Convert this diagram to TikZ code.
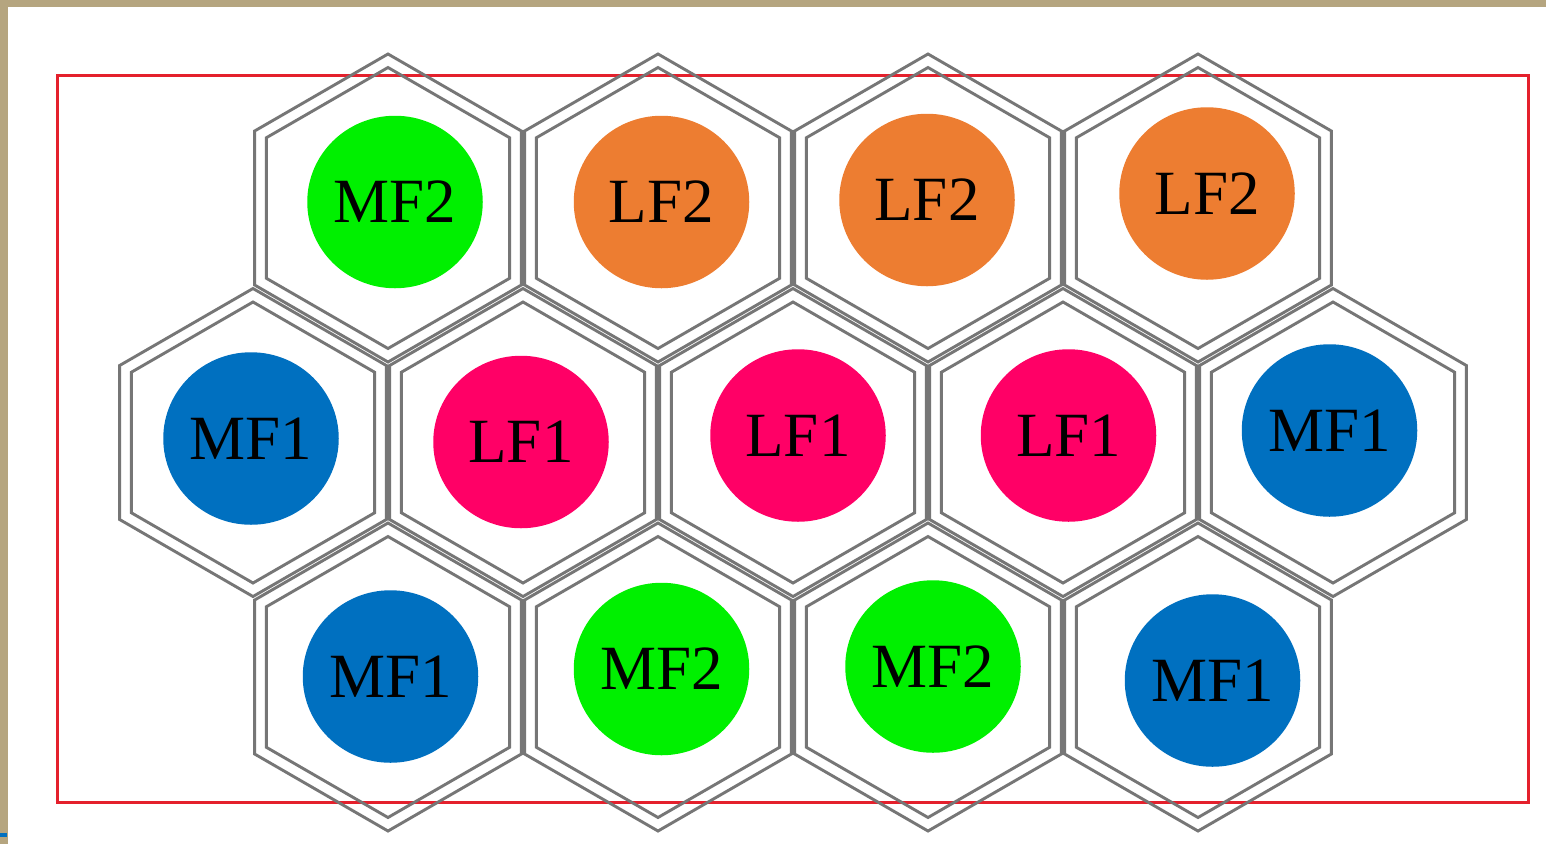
\documentclass[tikz,border=0pt]{standalone}
\usepackage{fontspec}
\setmainfont{Liberation Serif}
\usetikzlibrary{shapes.geometric}

\definecolor{frame}{RGB}{181,165,127}
\definecolor{boxred}{RGB}{228,32,44}
\definecolor{hexgray}{RGB}{118,118,118}
\definecolor{mfgreen}{RGB}{0,240,0}
\definecolor{lforange}{RGB}{237,125,49}
\definecolor{lfpink}{RGB}{255,0,102}
\definecolor{mfblue}{RGB}{0,112,192}

\tikzset{
  hexline/.style={draw=hexgray, line width=2.9pt, line join=miter},
  cell/.pic={
    \draw[hexline] (90:154) \foreach \a in {150,210,270,330,30} {-- (\a:154)} -- cycle;
    \draw[hexline] (90:140.5) \foreach \a in {150,210,270,330,30} {-- (\a:140.5)} -- cycle;
  },
  disc/.style={ellipse, minimum width=175.5pt, minimum height=172.5pt,
    inner sep=0pt, draw=none, text=black,
    font=\fontsize{63}{70}\selectfont},
  mf1/.style={disc, fill=mfblue},
  mf2/.style={disc, fill=mfgreen},
  lf1/.style={disc, fill=lfpink},
  lf2/.style={disc, fill=lforange},
}

\begin{document}
\begin{tikzpicture}[x=1pt, y=-1pt]
  % canvas and frame edges
  \path[use as bounding box, fill=white] (0,0) rectangle (1546,844);
  \fill[frame] (0,0) rectangle (1546,7);
  \fill[frame] (0,0) rectangle (8,844);
  \fill[mfblue] (0,833) rectangle (7,837);

  % outline of the region
  \draw[boxred, line width=3pt] (57.5,75) rectangle (1528,802);

  % hexagonal cells: three rows
  \foreach \x in {388,658,928,1198} {
    \pic at (\x,208) {cell};
    \pic at (\x,677) {cell};
  }
  \foreach \x in {253,523,793,1063,1333} {
    \pic at (\x,442.5) {cell};
  }

  % top row
  \node[mf2] (t1) at (395,202)   {MF2};
  \node[lf2] (t2) at (661.5,202) {LF2};
  \node[lf2] (t3) at (927,200)   {LF2};
  \node[lf2] (t4) at (1207,193.5){LF2};

  % middle row
  \node[mf1] (m1) at (251,438.5)  {MF1};
  \node[lf1] (m2) at (521,442)    {LF1};
  \node[lf1] (m3) at (798,435.5)  {LF1};
  \node[lf1] (m4) at (1068.5,435.5){LF1};
  \node[mf1] (m5) at (1329.5,430.5){MF1};

  % bottom row
  \node[mf1] (b1) at (390.5,676.5) {MF1};
  \node[mf2] (b2) at (661.5,669)   {MF2};
  \node[mf2] (b3) at (933,666.5)   {MF2};
  \node[mf1] (b4) at (1212.5,680.5){MF1};
\end{tikzpicture}
\end{document}
